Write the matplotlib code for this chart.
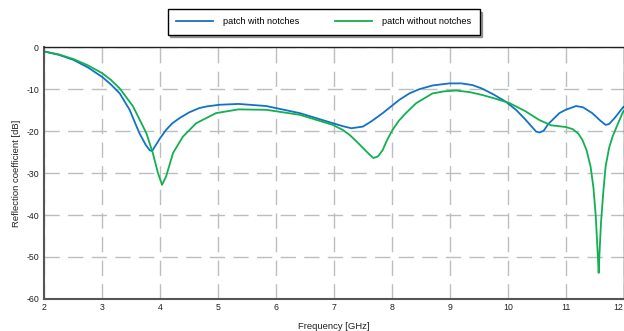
import numpy as np
import matplotlib.pyplot as plt

plt.rcParams['font.family'] = ['Liberation Sans', 'DejaVu Sans']
plt.rcParams['axes.unicode_minus'] = False

# Values
freq_notch = [2.0, 2.25, 2.5, 2.75, 3.0, 3.15, 3.3, 3.47, 3.64, 3.75, 3.82, 3.86, 3.9,
              4.0, 4.1, 4.2, 4.33, 4.5, 4.67, 4.8, 5.02, 5.35, 5.83, 6.41, 6.98, 7.15,
              7.3, 7.5, 7.65, 7.84, 8.13, 8.3, 8.47, 8.7, 8.99, 9.2, 9.39, 9.55, 9.75,
              9.97, 10.15, 10.31, 10.49, 10.55, 10.62, 10.7, 10.89, 11.0, 11.18, 11.3,
              11.46, 11.6, 11.69, 11.75, 11.85, 11.98, 12.0]
s11_notch = [-1.0, -1.8, -3.0, -4.8, -7.1, -8.9, -11.0, -14.9, -20.5, -23.3, -24.6,
             -24.7, -23.8, -21.6, -19.7, -18.2, -16.9, -15.5, -14.5, -14.1, -13.7,
             -13.5, -14.0, -15.7, -18.1, -18.8, -19.3, -18.9, -17.6, -15.7, -12.5,
             -11.0, -10.0, -9.1, -8.6, -8.6, -9.0, -9.8, -11.2, -13.0, -15.0, -17.3,
             -20.1, -20.3, -19.9, -18.3, -15.7, -14.9, -14.0, -14.3, -15.7, -17.5,
             -18.5, -18.3, -16.8, -14.5, -14.2]

freq_plain = [2.0, 2.25, 2.5, 2.75, 3.0, 3.15, 3.3, 3.53, 3.76, 3.87, 3.96, 4.03, 4.1,
              4.22, 4.39, 4.62, 4.96, 5.35, 5.83, 6.41, 6.98, 7.15, 7.27, 7.4, 7.5,
              7.6, 7.68, 7.76, 7.84, 7.92, 8.01, 8.12, 8.24, 8.42, 8.7, 8.9, 9.11,
              9.35, 9.57, 9.8, 10.03, 10.3, 10.54, 10.75, 11.0, 11.12, 11.22, 11.29,
              11.36, 11.43, 11.48, 11.52, 11.555, 11.57, 11.59, 11.61, 11.65, 11.69,
              11.75, 11.81, 11.9, 11.98, 12.0]
s11_plain = [-1.0, -1.7, -2.8, -4.3, -6.2, -7.8, -9.8, -14.1, -20.5, -25.2, -30.0,
             -32.8, -30.8, -25.2, -21.3, -18.1, -15.7, -14.8, -14.9, -16.1, -18.5,
             -19.7, -20.9, -22.6, -24.0, -25.4, -26.4, -26.0, -24.5, -22.0, -19.7,
             -17.5, -15.7, -13.3, -11.0, -10.5, -10.3, -10.7, -11.4, -12.3, -13.3,
             -15.2, -17.3, -18.6, -19.0, -19.5, -20.6, -22.1, -24.5, -28.4, -33.5,
             -40.3, -49.5, -53.8, -47.5, -41.9, -34.5, -28.4, -24.0, -21.3, -18.3,
             -15.7, -15.2]

fig = plt.figure(figsize=(6.24, 3.31), dpi=100)
ax = fig.add_axes([0.0713, 0.097, 0.928, 0.76])

ax.plot(freq_notch, s11_notch, color='#1272c6', lw=1.3, label='patch with notches')
ax.plot(freq_plain, s11_plain, color='#12b050', lw=1.3, label='patch without notches')

ax.set_xlim(2, 12)
ax.set_ylim(-60, 0)
ax.set_xticks(np.arange(2, 13, 1))
ax.set_yticks(np.arange(-60, 1, 10))
ax.grid(True, color='#bdbdbd', linestyle=(0, (11, 6)), lw=1.0)
ax.tick_params(length=0, labelsize=6.3, pad=4, colors='#222222')
ax.tick_params(axis='x', pad=3)
ax.get_xticklabels()[-1].set_ha('right')

for s in ['left', 'bottom']:
    ax.spines[s].set_color('#555555')
    ax.spines[s].set_linewidth(1.5)
for s in ['top', 'right']:
    ax.spines[s].set_color('#222222')
    ax.spines[s].set_linewidth(1.0)

ax.set_xlabel('Frequency [GHz]', fontsize=6.8, color='#222222')
ax.set_ylabel('Reflection coefficient [dB]', fontsize=6.8, color='#222222')
ax.xaxis.set_label_coords(0.5, -0.09)
ax.yaxis.set_label_coords(-0.04, 0.5)

leg = fig.legend(loc='center', bbox_to_anchor=(0.5185, 0.934), ncol=2, fontsize=6.6,
                 frameon=True, fancybox=False, shadow=True, edgecolor='black',
                 handlelength=4.1, columnspacing=3.8, borderpad=0.9, handletextpad=1.1)
leg.get_frame().set_linewidth(1.0)

fig.savefig('out.png', dpi=100)
